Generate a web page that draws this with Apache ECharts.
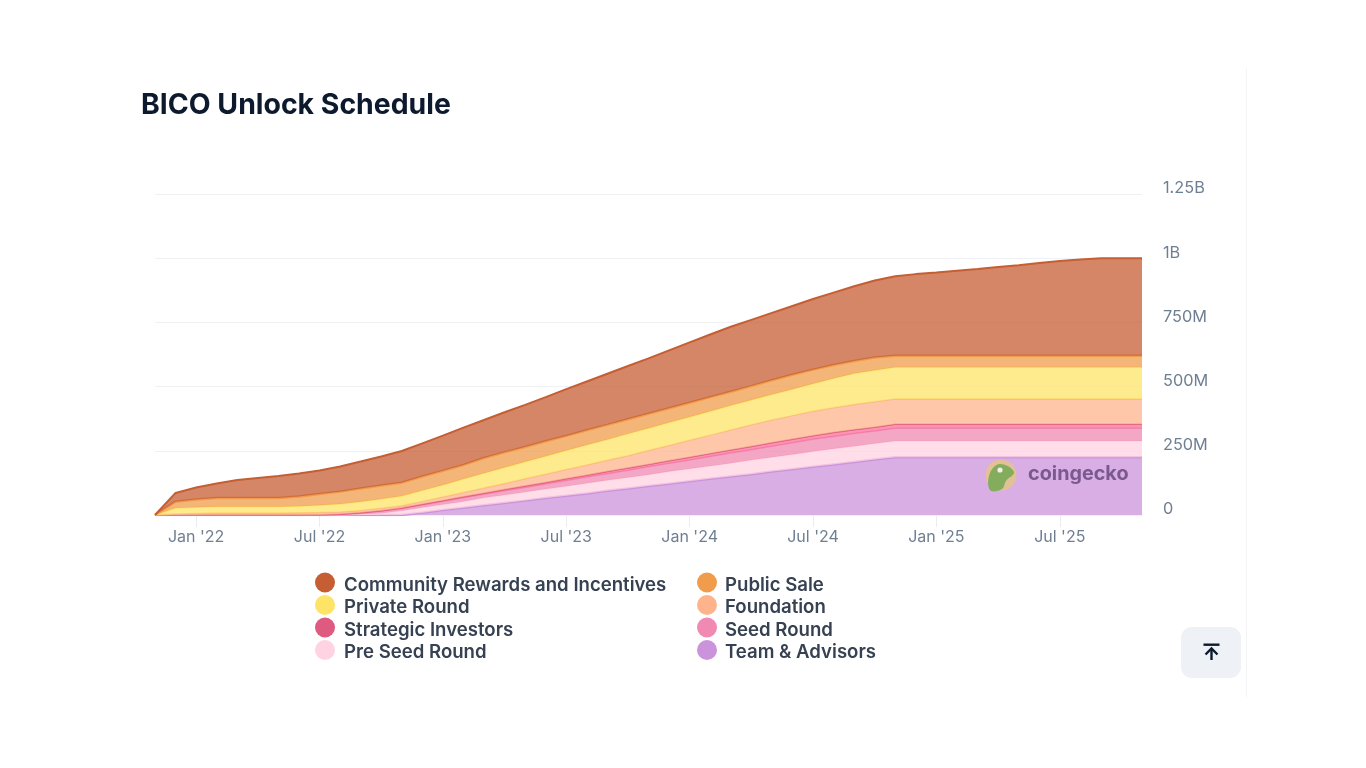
<!DOCTYPE html>
<html><head><meta charset="utf-8">
<style>html,body{margin:0;padding:0;background:#fff}#c{width:1366px;height:768px}</style>
<script src="https://cdn.jsdelivr.net/npm/echarts@6/dist/echarts.min.js"></script>
</head><body><div id="c"></div>
<script>
const months = ["Nov '21","Dec '21","Jan '22","Feb '22","Mar '22","Apr '22","May '22","Jun '22","Jul '22","Aug '22","Sep '22","Oct '22","Nov '22","Dec '22","Jan '23","Feb '23","Mar '23","Apr '23","May '23","Jun '23","Jul '23","Aug '23","Sep '23","Oct '23","Nov '23","Dec '23","Jan '24","Feb '24","Mar '24","Apr '24","May '24","Jun '24","Jul '24","Aug '24","Sep '24","Oct '24","Nov '24","Dec '24","Jan '25","Feb '25","Mar '25","Apr '25","May '25","Jun '25","Jul '25","Aug '25","Sep '25","Oct '25","Nov '25"];
const yTicks = {0:"0",250:"250M",500:"500M",750:"750M",1000:"1B",1250:"1.25B"};
// values in millions of tokens unlocked
const teamAdvisors = [0,0,0,0,0,0,0,0,0,0,0,0,0,9,19,28,38,47,56,66,75,84,94,103,113,122,131,141,150,159,169,178,188,197,206,216,225,225,225,225,225,225,225,225,225,225,225,225,225];
const preSeedRound = [0,0,0,0,0,0,0,0,0,1,3,7,17,20,22,25,29,31,34,35,37,40,41,43,44,47,49,50,52,55,56,58,59,61,62,62,63,63,63,63,63,63,63,63,63,63,63,63,63];
const seedRound = [0,0,0,0,0,0,0,0,0,1,4,8,8,10,12,14,14,16,17,20,22,24,26,28,31,32,34,37,39,40,43,45,48,48,49,49,50,50,50,50,50,50,50,50,50,50,50,50,50];
const strategicInvestors = [0,0,0,0,0,0,0,0,0,1,2,2,2,3,3,4,4,5,6,6,7,7,8,9,9,10,11,11,12,13,13,14,14,15,15,15,15,15,15,15,15,15,15,15,15,15,15,15,15];
const foundation = [0,4,6,8,8,8,8,9,10,9,9,9,9,11,14,17,20,24,28,32,36,40,44,48,54,60,66,72,78,84,89,92,95,97,98,99,99,99,99,99,99,99,99,99,99,99,99,99,99];
const privateRound = [0,23,24,24,24,24,24,25,28,31,34,36,38,42,47,52,58,62,66,70,74,78,81,85,87,89,91,93,95,97,99,103,107,114,121,123,123,123,123,123,123,123,123,123,123,123,123,123,123];
const publicSale = [0,25,30,34,34,34,34,38,44,48,51,53,52,55,55,55,59,59,58,58,57,57,57,57,56,56,55,55,54,54,56,56,55,52,49,49,45,45,45,45,45,45,45,45,45,45,45,45,45];
const communityRewards = [0,34,47,57,70,78,86,90,91,98,105,113,123,129,137,145,148,156,164,172,182,190,199,207,216,225,235,244,253,258,262,268,275,282,291,300,310,318,324,331,338,346,353,361,369,375,380,380,380];

const names = ["Team & Advisors","Pre Seed Round","Seed Round","Strategic Investors","Foundation","Private Round","Public Sale","Community Rewards and Incentives"];
const values = [teamAdvisors,preSeedRound,seedRound,strategicInvestors,foundation,privateRound,publicSale,communityRewards];
const colors = ["#cb93dc","#ffd3e1","#f08ab2","#de5a80","#fdb48c","#fde467","#f09c4c","#c55e33"];
const fills = ["#cb93dc","#ffd3e1","#f08ab2","#fb6f9b","#fdb48c","#fde467","#f09c4c","#c55e33"];
const widths = [2.5,1.5,1.5,1.5,1.5,1.5,2.5,2];
const legendLeft = ["Community Rewards and Incentives","Private Round","Strategic Investors","Pre Seed Round"];
const legendRight = ["Public Sale","Foundation","Seed Round","Team & Advisors"];
const FONT = "Inter, 'Noto Sans', sans-serif";
const isTick = i => (i - 2) % 6 === 0;
const legendText = leftPad => ({
  fontFamily:FONT, fontSize:18.6, fontWeight:600, color:'#364152',
  rich:{a:{fontFamily:FONT, fontSize:18.6, fontWeight:600, color:'#364152', padding:[5,0,0,leftPad]}}
});
const legendBase = {
  orient:'vertical', icon:'circle', itemWidth:20, itemHeight:20, itemGap:0.5, top:572.5, padding:0,
  selectedMode:false, formatter:n=>'{a|'+n+'}'
};
const chart = echarts.init(document.getElementById('c'), null, {renderer:'canvas'});
chart.setOption({
  animation:false,
  backgroundColor:'#fff',
  title:{text:'BICO Unlock Schedule', left:141, top:91, padding:0,
    textStyle:{fontFamily:FONT, fontSize:28.4, fontWeight:700, color:'#0d1a2e'}},
  grid:{left:155, right:224, top:194, bottom:253, containLabel:false},
  legend:[
    Object.assign({}, legendBase, {left:315, data:legendLeft, textStyle:legendText(4)}),
    Object.assign({}, legendBase, {left:697, data:legendRight, textStyle:legendText(3)})
  ],
  xAxis:{type:'category', data:months, boundaryGap:false,
    axisLine:{show:true, lineStyle:{color:'#eef1f4', width:1}},
    axisTick:{show:true, interval:isTick, length:12, lineStyle:{color:'#e9edf1'}},
    splitLine:{show:false},
    axisLabel:{interval:isTick, color:'#6f7f92', fontFamily:FONT, fontSize:16, margin:14, hideOverlap:false}
  },
  yAxis:{type:'value', position:'right', min:0, max:1250, interval:250,
    axisLine:{show:false}, axisTick:{show:false},
    splitLine:{lineStyle:{color:'#eff1f4', width:1}},
    axisLabel:{formatter:v=>yTicks[v], color:'#6f7f92', fontFamily:FONT, fontSize:16.3, margin:21,
      verticalAlign:'bottom', lineHeight:11, align:'left'}
  },
  series:names.map((n,i)=>({
    name:n, type:'line', stack:'total', data:values[i], symbol:'none', smooth:false,
    itemStyle:{color:colors[i]},
    lineStyle:{color:colors[i], width:widths[i]},
    areaStyle:{color:fills[i], opacity:0.75},
    z:2+i
  })),
  graphic:[
    {type:'line', silent:true, shape:{x1:1246.5,y1:68,x2:1246.5,y2:697}, style:{stroke:'#f3f4f6',lineWidth:1}},
    {type:'rect', silent:true, shape:{x:1181,y:627,width:60,height:51,r:11}, style:{fill:'#eef1f5'}},
    {type:'rect', silent:true, shape:{x:1203.5,y:643.5,width:16,height:2.4}, style:{fill:'#0d1a2e'}},
    {type:'polyline', silent:true, shape:{points:[[1205.5,654.5],[1211.5,648.5],[1217.5,654.5]]}, style:{stroke:'#0d1a2e',lineWidth:2.4,fill:'none'}},
    {type:'line', silent:true, shape:{x1:1211.5,y1:649,x2:1211.5,y2:660}, style:{stroke:'#0d1a2e',lineWidth:2.4}},
    {type:'circle', silent:true, z:50, shape:{cx:1001,cy:475,r:15.5}, style:{fill:'#e3c28f', opacity:0.9}},
    {type:'polygon', silent:true, z:51, shape:{smooth:0.4, points:[[990,490],[990,473],[1000,464],[1014,472],[1006,481],[1002,489]]}, style:{fill:'#83ad5c'}},
    {type:'circle', silent:true, z:52, shape:{cx:1000,cy:470,r:2.6}, style:{fill:'#f1efe6'}},
    {type:'text', silent:true, z:51, x:1028, y:464, style:{text:'coingecko', font:"700 19.8px "+FONT, fill:'#7a5a8e'}}
  ]
});
</script></body></html>
